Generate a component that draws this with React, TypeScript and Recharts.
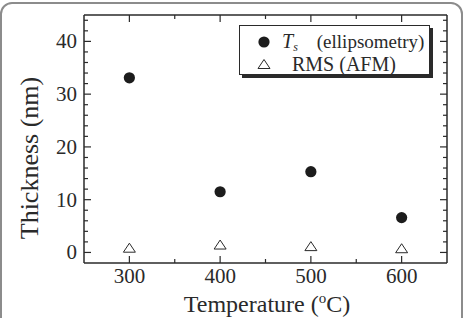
import { Label, Scatter, ScatterChart, XAxis, YAxis } from "recharts";

const temperatures = [300, 400, 500, 600];
const tsThickness = [33.1, 11.5, 15.3, 6.6];
const rmsThickness = [0.9, 1.5, 1.2, 0.8];

const xTicks = [300, 350, 400, 450, 500, 550, 600];
const xLabeled = [300, 400, 500, 600];
const yTicks = [0, 2, 4, 6, 8, 10, 12, 14, 16, 18, 20, 22, 24, 26, 28, 30, 32, 34, 36, 38, 40, 42, 44];
const yLabeled = [0, 10, 20, 30, 40];

const tsData = temperatures.map((t, i) => ({ t, v: tsThickness[i] }));
const rmsData = temperatures.map((t, i) => ({ t, v: rmsThickness[i] }));

const FONT = '"Liberation Serif", "Times New Roman", serif';
const INK = "#2a2a2a";

// inward ticks, labels only on the major ones
function XTick(props: any) {
  const { x, y, payload, side } = props;
  const major = xLabeled.includes(payload.value);
  const len = major ? 7 : 4;
  const dir = side === "bottom" ? -1 : 1;
  return (
    <g>
      <line x1={x} x2={x} y1={y} y2={y + dir * len} stroke={INK} strokeWidth={1.2} />
      {side === "bottom" && major ? (
        <text x={x} y={y + 19.5} textAnchor="middle" fontFamily={FONT} fontSize={21} fill={INK}>
          {payload.value}
        </text>
      ) : null}
    </g>
  );
}

function YTick(props: any) {
  const { x, y, payload, side } = props;
  const major = yLabeled.includes(payload.value);
  const len = major ? 7 : 4;
  const dir = side === "left" ? 1 : -1;
  return (
    <g>
      <line x1={x} x2={x + dir * len} y1={y} y2={y} stroke={INK} strokeWidth={1.2} />
      {side === "left" && major ? (
        <text x={x - 7} y={y + 7} textAnchor="end" fontFamily={FONT} fontSize={21} fill={INK}>
          {payload.value}
        </text>
      ) : null}
    </g>
  );
}

const Dot = (p: any) => <circle cx={p.cx} cy={p.cy} r={5.6} fill="#1c1c1c" />;
const Tri = (p: any) => (
  <polygon
    points={`${p.cx - 6},${p.cy + 4.5} ${p.cx + 6},${p.cy + 4.5} ${p.cx},${p.cy - 4.5}`}
    fill="#fff"
    stroke={INK}
    strokeWidth={1}
  />
);

function XTitle({ viewBox }: any) {
  return (
    <text
      x={viewBox.x + viewBox.width / 2 + 1.5}
      y={viewBox.y + 48.7}
      textAnchor="middle"
      fontFamily={FONT}
      fontSize={24}
      fill={INK}
    >
      Temperature (
      <tspan dy={-9} fontSize={15}>o</tspan>
      <tspan dy={9}>C)</tspan>
    </text>
  );
}

function YTitle({ viewBox }: any) {
  const cx = viewBox.x + 14;
  const cy = viewBox.y + viewBox.height / 2 + 19;
  return (
    <text
      x={cx}
      y={cy}
      transform={`rotate(-90 ${cx} ${cy})`}
      textAnchor="middle"
      fontFamily={FONT}
      fontSize={26}
      fill={INK}
    >
      Thickness (nm)
    </text>
  );
}

function LegendBox() {
  return (
    <div
      style={{
        position: "absolute",
        left: 239,
        top: 25,
        width: 189,
        height: 48,
        border: `1px solid ${INK}`,
        boxShadow: `3px 3px 0 ${INK}`,
        background: "#fff",
        fontFamily: FONT,
        fontSize: 20,
        color: INK,
        lineHeight: "20px",
      }}
    >
      <div style={{ position: "absolute", left: 17, top: 5, display: "flex", alignItems: "center" }}>
        <svg width={14} height={14} style={{ marginRight: 11 }}>
          <circle cx={7} cy={7} r={5.6} fill="#1c1c1c" />
        </svg>
        <span style={{ display: "flex", alignItems: "baseline" }}>
          <i>T</i>
          <i style={{ fontSize: 12, lineHeight: "10px", position: "relative", top: 3 }}>s</i>
          <span style={{ marginLeft: 19, fontSize: 19 }}>(ellipsometry)</span>
        </span>
      </div>
      <div style={{ position: "absolute", left: 17, top: 28, display: "flex", alignItems: "center" }}>
        <svg width={14} height={14} style={{ marginRight: 21 }}>
          <polygon points="1,11.5 13,11.5 7,2.5" fill="#fff" stroke={INK} strokeWidth={1} />
        </svg>
        <span>RMS (AFM)</span>
      </div>
    </div>
  );
}

export default function App() {
  return (
    <div
      style={{
        position: "fixed",
        left: 0,
        top: 0,
        width: 465,
        height: 318,
        overflow: "hidden",
        background: "#fff",
      }}
    >
      <div
        style={{
          position: "absolute",
          left: 0,
          top: 2,
          width: 459,
          height: 340,
          border: "2px solid #8c8c8c",
          borderRadius: 12,
        }}
      />
      <div style={{ position: "absolute", left: 0, top: 0 }}>
        <ScatterChart width={465} height={318} margin={{ top: 14, right: 17, bottom: 0, left: 24 }}>
          <XAxis
            xAxisId="b"
            dataKey="t"
            type="number"
            domain={[250, 650]}
            ticks={xTicks}
            interval={0}
            height={55}
            tickSize={0}
            tickMargin={0}
            tickLine={false}
            axisLine={{ stroke: INK, strokeWidth: 1.5 }}
            tick={(p: any) => <XTick {...p} side="bottom" />}
          >
            <Label content={XTitle} />
          </XAxis>
          <XAxis
            xAxisId="t"
            dataKey="t"
            orientation="top"
            type="number"
            domain={[250, 650]}
            ticks={xTicks}
            interval={0}
            height={1}
            tickSize={0}
            tickMargin={0}
            tickLine={false}
            axisLine={{ stroke: INK, strokeWidth: 1.5 }}
            tick={(p: any) => <XTick {...p} side="top" />}
          />
          <YAxis
            yAxisId="l"
            dataKey="v"
            type="number"
            domain={[-2, 45]}
            ticks={yTicks}
            interval={0}
            width={60}
            tickSize={0}
            tickMargin={0}
            tickLine={false}
            axisLine={{ stroke: INK, strokeWidth: 1.5 }}
            tick={(p: any) => <YTick {...p} side="left" />}
          >
            <Label content={YTitle} />
          </YAxis>
          <YAxis
            yAxisId="r"
            dataKey="v"
            orientation="right"
            type="number"
            domain={[-2, 45]}
            ticks={yTicks}
            interval={0}
            width={1}
            tickSize={0}
            tickMargin={0}
            tickLine={false}
            axisLine={{ stroke: INK, strokeWidth: 1.5 }}
            tick={(p: any) => <YTick {...p} side="right" />}
          />
          <Scatter
            name="Ts (ellipsometry)"
            data={tsData}
            xAxisId="b"
            yAxisId="l"
            shape={Dot}
            isAnimationActive={false}
          />
          {/* same domains, so the top/right axes give identical positions */}
          <Scatter
            name="RMS (AFM)"
            data={rmsData}
            xAxisId="t"
            yAxisId="r"
            shape={Tri}
            isAnimationActive={false}
          />
        </ScatterChart>
      </div>
      <LegendBox />
    </div>
  );
}
